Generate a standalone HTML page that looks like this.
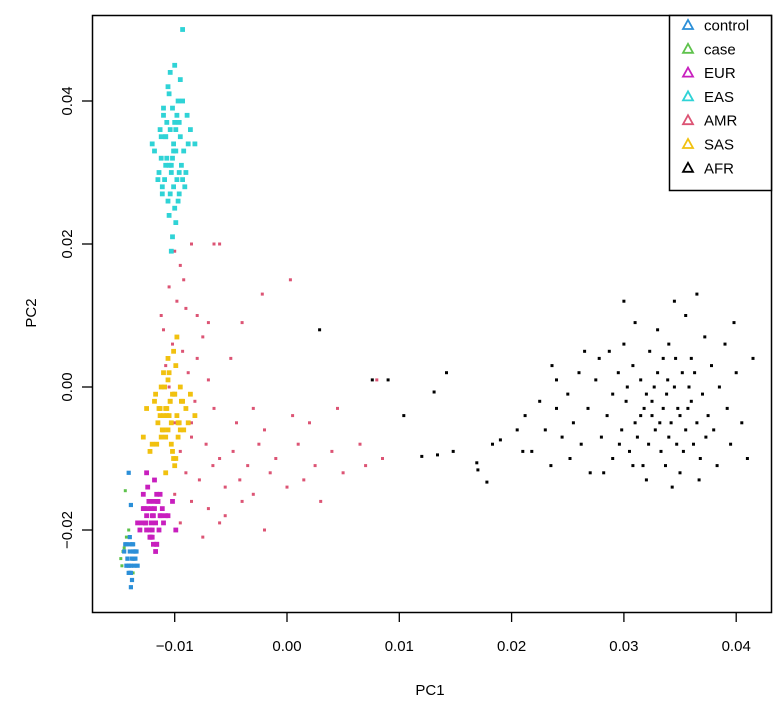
<!DOCTYPE html>
<html><head><meta charset="utf-8"><style>
html,body{margin:0;padding:0;background:#fff;}
svg{display:block;font-family:"Liberation Sans",Arial,sans-serif;}
</style></head><body>
<svg id="chart" width="775" height="704" viewBox="0 0 775 704">
<rect x="0" y="0" width="775" height="704" fill="#fff"/>
<g id="points"></g>
<g id="axes"></g>
<rect x="92.5" y="15.5" width="679" height="597" fill="none" stroke="#000" stroke-width="1.5"/>
<text x="430" y="695" font-size="15" text-anchor="middle">PC1</text>
<text x="36" y="313" font-size="15" text-anchor="middle" transform="rotate(-90 36 313)">PC2</text>
<g id="legend">
<rect x="669.5" y="15.5" width="102" height="175" fill="#fff" stroke="#000" stroke-width="1.5"/>
</g>
</svg>
<script>
const xTicks = [-0.01, 0.00, 0.01, 0.02, 0.03, 0.04];
const xTickLabels = ["\u22120.01", "0.00", "0.01", "0.02", "0.03", "0.04"];
const yTicks = [-0.02, 0.00, 0.02, 0.04];
const yTickLabels = ["\u22120.02", "0.00", "0.02", "0.04"];
const legendLabels = ["control", "case", "EUR", "EAS", "AMR", "SAS", "AFR"];
const legendColors = ["#2b8fd8", "#5ec24c", "#c81fbe", "#2fd3d6", "#dc5474", "#f1c10f", "#000000"];

const easPoints = [[-0.0105,0.041],[-0.0098,0.038],[-0.0112,0.035],[-0.0101,0.033],[-0.0093,0.040],[-0.0108,0.031],[-0.0115,0.029],[-0.0099,0.036],[-0.0104,0.027],[-0.0088,0.034],[-0.0110,0.039],[-0.0096,0.030],[-0.0102,0.032],[-0.0107,0.037],[-0.0091,0.028],[-0.0118,0.033],[-0.0100,0.025],[-0.0095,0.035],[-0.0106,0.042],[-0.0103,0.030],[-0.0097,0.026],[-0.0113,0.036],[-0.0089,0.038],[-0.0109,0.029],[-0.0101,0.034],[-0.0094,0.031],[-0.0104,0.044],[-0.0111,0.028],[-0.0099,0.023],[-0.0086,0.036],[-0.0107,0.032],[-0.0102,0.039],[-0.0096,0.027],[-0.0114,0.030],[-0.0100,0.037],[-0.0092,0.033],[-0.0105,0.024],[-0.0108,0.035],[-0.0098,0.029],[-0.0103,0.031],[-0.0120,0.034],[-0.0095,0.043],[-0.0101,0.028],[-0.0110,0.038],[-0.0090,0.030],[-0.0106,0.026],[-0.0099,0.033],[-0.0104,0.036],[-0.0112,0.032],[-0.0097,0.040],[-0.0102,0.021],[-0.0093,0.029],[-0.0108,0.035],[-0.0100,0.045],[-0.0105,0.031],[-0.0096,0.037],[-0.0111,0.027],[-0.0082,0.034],[-0.0103,0.019],[-0.0093,0.050]];
const sasPoints = [[-0.0108,-0.003],[-0.0100,-0.001],[-0.0115,-0.005],[-0.0095,0.000],[-0.0112,-0.007],[-0.0104,-0.002],[-0.0098,-0.004],[-0.0120,-0.008],[-0.0106,0.001],[-0.0090,-0.003],[-0.0110,-0.006],[-0.0102,-0.009],[-0.0117,-0.001],[-0.0097,-0.005],[-0.0105,0.002],[-0.0113,-0.004],[-0.0093,-0.002],[-0.0108,-0.007],[-0.0101,-0.010],[-0.0125,-0.003],[-0.0099,0.003],[-0.0111,-0.006],[-0.0086,-0.001],[-0.0107,-0.004],[-0.0103,-0.008],[-0.0118,-0.002],[-0.0096,-0.005],[-0.0109,0.000],[-0.0100,-0.011],[-0.0114,-0.003],[-0.0092,-0.006],[-0.0106,0.004],[-0.0122,-0.009],[-0.0102,-0.001],[-0.0097,-0.007],[-0.0110,-0.004],[-0.0104,-0.002],[-0.0088,-0.005],[-0.0116,-0.008],[-0.0101,0.005],[-0.0107,-0.003],[-0.0095,-0.006],[-0.0112,0.000],[-0.0099,-0.010],[-0.0105,-0.004],[-0.0128,-0.007],[-0.0094,-0.002],[-0.0108,-0.012],[-0.0103,-0.005],[-0.0113,-0.003],[-0.0098,0.007],[-0.0082,-0.004],[-0.0110,0.002],[-0.0106,-0.006],[-0.0100,-0.001]];
const eurPoints = [[-0.0120,-0.018],[-0.0115,-0.016],[-0.0125,-0.020],[-0.0118,-0.017],[-0.0110,-0.019],[-0.0128,-0.015],[-0.0122,-0.021],[-0.0113,-0.018],[-0.0119,-0.016],[-0.0126,-0.019],[-0.0116,-0.022],[-0.0121,-0.017],[-0.0131,-0.020],[-0.0112,-0.018],[-0.0124,-0.014],[-0.0117,-0.019],[-0.0120,-0.021],[-0.0127,-0.017],[-0.0114,-0.020],[-0.0123,-0.016],[-0.0108,-0.018],[-0.0119,-0.022],[-0.0129,-0.019],[-0.0116,-0.015],[-0.0122,-0.020],[-0.0111,-0.017],[-0.0125,-0.018],[-0.0118,-0.013],[-0.0121,-0.021],[-0.0133,-0.019],[-0.0115,-0.016],[-0.0120,-0.020],[-0.0106,-0.018],[-0.0124,-0.017],[-0.0117,-0.023],[-0.0126,-0.019],[-0.0113,-0.015],[-0.0119,-0.018],[-0.0122,-0.021],[-0.0128,-0.017],[-0.0102,-0.016],[-0.0116,-0.022],[-0.0121,-0.019],[-0.0099,-0.020],[-0.0125,-0.012]];
const controlPoints = [[-0.0140,-0.023],[-0.0137,-0.024],[-0.0143,-0.022],[-0.0139,-0.025],[-0.0135,-0.023],[-0.0141,-0.026],[-0.0138,-0.024],[-0.0144,-0.022],[-0.0136,-0.025],[-0.0140,-0.021],[-0.0142,-0.024],[-0.0134,-0.023],[-0.0139,-0.026],[-0.0137,-0.022],[-0.0141,-0.025],[-0.0138,-0.027],[-0.0145,-0.023],[-0.0136,-0.024],[-0.0140,-0.022],[-0.0133,-0.025],[-0.0139,-0.028],[-0.0142,-0.024],[-0.0137,-0.023],[-0.0140,-0.026],[-0.0135,-0.024],[-0.0138,-0.022],[-0.0143,-0.025],[-0.0136,-0.023],[-0.0139,-0.0165],[-0.0141,-0.012]];
const casePoints = [[-0.0146,-0.023],[-0.0143,-0.021],[-0.0147,-0.025],[-0.0141,-0.020],[-0.0145,-0.0225],[-0.0137,-0.026],[-0.0148,-0.024],[-0.0144,-0.0145]];
const amrPoints = [[-0.0100,0.019],[-0.0095,0.017],[-0.0085,0.020],[-0.0065,0.020],[-0.0060,0.020],[-0.0105,0.014],[-0.0098,0.012],[-0.0090,0.011],[-0.0080,0.010],[-0.0070,0.009],[-0.0040,0.009],[-0.0110,0.008],[-0.0102,0.006],[-0.0093,0.005],[-0.0075,0.007],[-0.0022,0.013],[0.0003,0.015],[-0.0108,0.003],[-0.0088,0.002],[-0.0070,0.001],[-0.0050,0.004],[-0.0082,-0.002],[-0.0065,-0.003],[-0.0045,-0.005],[-0.0030,-0.003],[-0.0020,-0.006],[0.0005,-0.004],[0.0045,-0.003],[0.0080,0.001],[-0.0085,-0.007],[-0.0072,-0.008],[-0.0060,-0.010],[-0.0048,-0.009],[-0.0035,-0.011],[-0.0025,-0.008],[-0.0010,-0.010],[0.0010,-0.008],[0.0025,-0.011],[0.0040,-0.009],[0.0065,-0.008],[0.0085,-0.010],[-0.0090,-0.012],[-0.0078,-0.013],[-0.0066,-0.011],[-0.0055,-0.014],[-0.0042,-0.013],[-0.0030,-0.015],[-0.0015,-0.012],[0.0000,-0.014],[0.0015,-0.013],[0.0030,-0.016],[0.0050,-0.012],[0.0070,-0.011],[-0.0100,-0.015],[-0.0085,-0.016],[-0.0070,-0.017],[-0.0055,-0.018],[-0.0040,-0.016],[-0.0020,-0.020],[-0.0075,-0.021],[-0.0060,-0.019],[-0.0095,-0.009],[-0.0100,-0.005],[-0.0080,0.004],[-0.0105,0.000],[-0.0092,0.015],[-0.0112,0.010],[-0.0085,-0.005],[-0.0095,-0.019],[0.0020,-0.005]];
const afrPoints = [[0.0335,-0.003],[0.0320,-0.001],[0.0350,-0.004],[0.0310,-0.005],[0.0345,0.000],[0.0328,-0.006],[0.0360,-0.002],[0.0302,-0.002],[0.0340,-0.007],[0.0315,0.001],[0.0355,-0.006],[0.0330,0.002],[0.0298,-0.006],[0.0365,-0.005],[0.0325,-0.004],[0.0338,-0.001],[0.0348,-0.003],[0.0318,-0.003],[0.0290,-0.001],[0.0370,-0.001],[0.0333,-0.009],[0.0352,0.002],[0.0308,0.003],[0.0342,-0.005],[0.0322,-0.008],[0.0362,-0.008],[0.0285,-0.004],[0.0375,-0.004],[0.0312,-0.007],[0.0346,0.004],[0.0327,0.000],[0.0358,0.000],[0.0295,0.002],[0.0337,-0.011],[0.0380,-0.006],[0.0280,-0.007],[0.0305,-0.009],[0.0368,-0.010],[0.0353,-0.009],[0.0323,0.005],[0.0340,0.006],[0.0300,0.006],[0.0385,0.000],[0.0275,0.001],[0.0360,0.004],[0.0317,-0.011],[0.0350,-0.012],[0.0290,-0.010],[0.0378,0.003],[0.0268,-0.003],[0.0392,-0.003],[0.0330,0.008],[0.0310,0.009],[0.0355,0.010],[0.0287,0.005],[0.0372,0.007],[0.0262,-0.008],[0.0395,-0.008],[0.0343,-0.014],[0.0320,-0.013],[0.0367,-0.013],[0.0282,-0.012],[0.0260,0.002],[0.0400,0.002],[0.0255,-0.005],[0.0405,-0.005],[0.0345,0.012],[0.0300,0.012],[0.0365,0.013],[0.0250,-0.001],[0.0410,-0.010],[0.0245,-0.007],[0.0415,0.004],[0.0240,-0.003],[0.0240,0.001],[0.0230,-0.006],[0.0225,-0.002],[0.0218,-0.009],[0.0212,-0.004],[0.0235,-0.011],[0.0270,-0.012],[0.0335,0.004],[0.0325,-0.002],[0.0347,-0.008],[0.0315,-0.004],[0.0357,-0.003],[0.0303,0.000],[0.0363,0.002],[0.0296,-0.008],[0.0373,-0.007],[0.0332,-0.005],[0.0339,0.001],[0.0308,-0.011],[0.0383,-0.011],[0.0278,0.004],[0.0390,0.006],[0.0265,0.005],[0.0398,0.009],[0.0252,-0.010],[0.0236,0.003],[0.0029,0.008],[0.0076,0.001],[0.0090,0.001],[0.0104,-0.004],[0.0131,-0.0007],[0.0142,0.002],[0.0120,-0.0097],[0.0134,-0.0095],[0.0148,-0.009],[0.0169,-0.0106],[0.0170,-0.0116],[0.0178,-0.0133],[0.0183,-0.008],[0.0190,-0.0074],[0.0205,-0.006],[0.0210,-0.009]];

const NS = "http://www.w3.org/2000/svg";
function xScale(v){ return 287 + v * 11230; }
function yScale(v){ return 387 - v * 7150; }

const pts = document.getElementById("points");
function drawSeries(data, color, name, size){
  const g = document.createElementNS(NS, "g");
  
  
  g.setAttribute("fill", color);
  data.forEach(function(d){
    const r = document.createElementNS(NS, "rect");
    r.setAttribute("x", (xScale(d[0]) - size/2).toFixed(1));
    r.setAttribute("y", (yScale(d[1]) - size/2).toFixed(1));
    r.setAttribute("width", size);
    r.setAttribute("height", size);
    
    
    g.appendChild(r);
  });
  pts.appendChild(g);
}
drawSeries(afrPoints, "#000000", "afr", 3);
drawSeries(amrPoints, "#dc5474", "amr", 3);
drawSeries(easPoints, "#2fd3d6", "eas", 4.8);
drawSeries(sasPoints, "#f1c10f", "sas", 4.8);
drawSeries(eurPoints, "#c81fbe", "eur", 4.8);
drawSeries(casePoints, "#5ec24c", "case", 3);
drawSeries(controlPoints, "#2b8fd8", "control", 4.2);

const axes = document.getElementById("axes");
xTicks.forEach(function(v, i){
  const x = xScale(v);
  const l = document.createElementNS(NS, "line");
  l.setAttribute("x1", x); l.setAttribute("x2", x);
  l.setAttribute("y1", 612); l.setAttribute("y2", 622);
  l.setAttribute("stroke", "#000"); l.setAttribute("stroke-width", "1.3");
  
  
  axes.appendChild(l);
  const t = document.createElementNS(NS, "text");
  t.setAttribute("x", x); t.setAttribute("y", 651);
  t.setAttribute("font-size", "15"); t.setAttribute("text-anchor", "middle");
  t.textContent = xTickLabels[i];
  
  
  axes.appendChild(t);
});
yTicks.forEach(function(v, i){
  const y = yScale(v);
  const l = document.createElementNS(NS, "line");
  l.setAttribute("x1", 82); l.setAttribute("x2", 92);
  l.setAttribute("y1", y); l.setAttribute("y2", y);
  l.setAttribute("stroke", "#000"); l.setAttribute("stroke-width", "1.3");
  
  
  axes.appendChild(l);
  const t = document.createElementNS(NS, "text");
  t.setAttribute("x", 72); t.setAttribute("y", y);
  t.setAttribute("font-size", "15"); t.setAttribute("text-anchor", "middle");
  t.setAttribute("transform", "rotate(-90 72 " + y + ")");
  t.textContent = yTickLabels[i];
  
  
  axes.appendChild(t);
});

const legend = document.getElementById("legend");
legendLabels.forEach(function(lab, i){
  const y = 25 + i * 23.8;
  const g = document.createElementNS(NS, "g");
  
  
  const p = document.createElementNS(NS, "polygon");
  p.setAttribute("points", (688-5) + "," + (y+4) + " " + (688+5) + "," + (y+4) + " 688," + (y-5));
  p.setAttribute("fill", "none");
  p.setAttribute("stroke", legendColors[i]);
  p.setAttribute("stroke-width", "1.8");
  
  
  g.appendChild(p);
  const t = document.createElementNS(NS, "text");
  t.setAttribute("x", 704); t.setAttribute("y", y + 5.5);
  t.setAttribute("font-size", "15");
  t.textContent = lab;
  
  
  g.appendChild(t);
  legend.appendChild(g);
});
</script>
</body></html>
